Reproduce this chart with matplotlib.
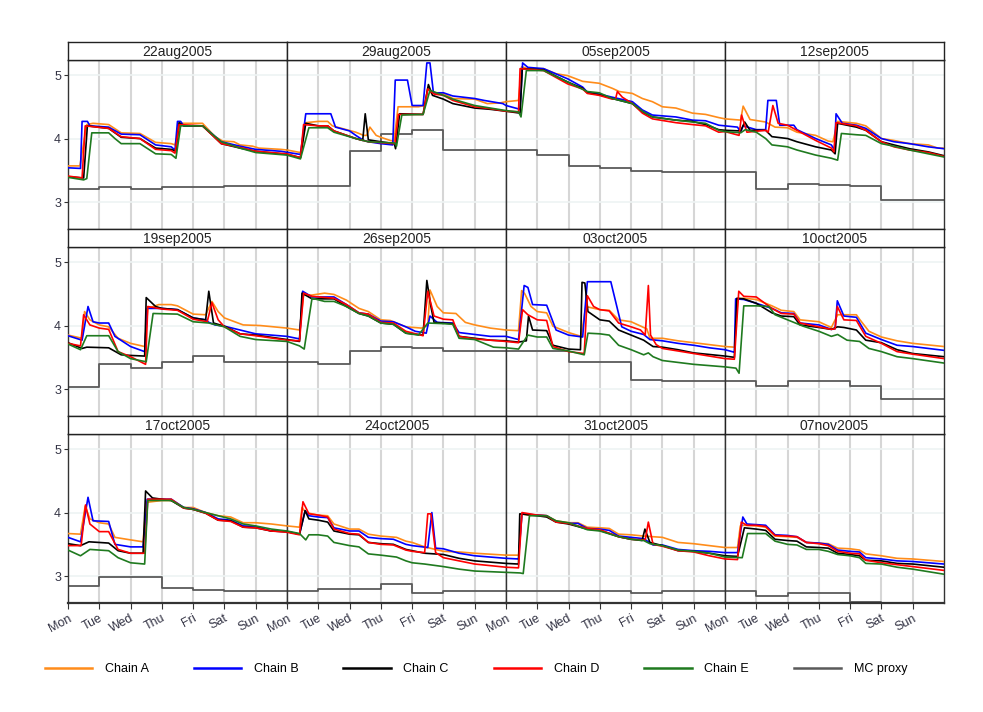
import numpy as np
import matplotlib
matplotlib.use("Agg")
import matplotlib.pyplot as plt
from matplotlib.lines import Line2D

plt.rcParams['font.family'] = ['Liberation Sans', 'DejaVu Sans']

# time in days since Mon 22aug2005, price value
weeks = ["22aug2005", "29aug2005", "05sep2005", "12sep2005",
         "19sep2005", "26sep2005", "03oct2005", "10oct2005",
         "17oct2005", "24oct2005", "31oct2005", "07nov2005"]
day_names = ["Mon", "Tue", "Wed", "Thu", "Fri", "Sat", "Sun"]

chain_a = [(0, 3.57), (0.38, 3.57), (0.6, 4.22), (0.8, 4.24), (1.3, 4.22), (1.7, 4.09), (2.3, 4.08), (2.8, 3.94),
           (3.3, 3.92), (3.42, 3.9), (3.6, 4.24), (4.3, 4.24), (4.7, 4.03), (4.95, 3.96), (5.3, 3.95), (5.5, 3.9),
           (5.9, 3.88), (6.1, 3.85), (6.8, 3.83),
           (7.0, 3.82), (7.43, 3.78), (7.6, 4.25), (8.0, 4.27), (8.3, 4.27), (8.45, 4.2), (9.2, 4.1), (9.45, 4.05),
           (9.55, 4.05), (9.65, 4.18), (9.85, 4.05), (10.0, 4.02), (10.3, 3.97), (10.42, 3.96), (10.55, 4.5),
           (11.2, 4.5), (11.4, 4.52), (11.5, 4.8), (11.6, 4.72), (12.0, 4.71), (12.3, 4.63), (13.0, 4.62),
           (13.4, 4.55), (13.8, 4.56),
           (14.0, 4.58), (14.4, 4.6), (14.5, 5.13), (14.7, 5.1), (15.2, 5.1), (15.6, 5.02), (15.97, 4.99),
           (16.45, 4.9), (16.98, 4.87), (17.4, 4.79), (17.62, 4.74), (18.04, 4.71), (18.36, 4.63), (18.68, 4.58),
           (19.0, 4.5), (19.43, 4.48), (19.96, 4.4), (20.38, 4.38), (20.8, 4.33),
           (21.0, 4.31), (21.5, 4.29), (21.58, 4.51), (21.8, 4.3), (22.3, 4.26), (22.6, 4.18), (23.0, 4.17),
           (23.3, 4.1), (23.9, 4.05), (24.3, 3.96), (24.45, 3.95), (24.6, 4.27), (25.2, 4.24), (25.5, 4.2),
           (26.0, 4.0), (26.4, 3.97), (26.9, 3.92), (27.5, 3.9), (27.8, 3.85),
           (28.0, 3.85), (28.45, 3.8), (28.53, 4.22), (28.7, 4.09), (29.0, 4.01), (29.3, 3.98), (29.6, 3.8),
           (30.0, 3.72), (30.45, 3.67), (30.55, 4.27), (30.9, 4.33), (31.3, 4.33), (31.5, 4.31), (32.0, 4.18),
           (32.4, 4.17), (32.6, 4.38), (32.8, 4.22), (33.0, 4.12), (33.6, 4.01), (34.15, 4.0),
           (35.0, 3.96), (35.4, 3.93), (35.53, 4.48), (35.8, 4.48), (36.2, 4.51), (36.5, 4.49), (36.9, 4.4),
           (37.3, 4.27), (37.6, 4.22), (38.0, 4.09), (38.3, 4.08), (38.8, 3.98), (39.3, 3.96), (39.5, 4.0),
           (39.57, 4.56), (39.8, 4.3), (40.0, 4.2), (40.4, 4.19), (40.7, 4.05), (41.0, 4.01), (41.5, 3.96),
           (42.0, 3.93), (42.4, 3.92), (42.5, 4.55), (42.6, 4.5), (42.8, 4.3), (43.0, 4.22), (43.3, 4.2),
           (43.5, 3.99), (44.0, 3.89), (44.4, 3.83), (44.55, 4.3), (45.0, 4.25), (45.3, 4.24), (45.6, 4.09),
           (46.0, 4.06), (46.4, 3.97), (46.5, 3.95), (46.6, 3.8), (47.0, 3.8), (47.5, 3.76), (48.0, 3.73),
           (48.5, 3.7),
           (49.0, 3.67), (49.3, 3.66), (49.41, 4.42), (49.6, 4.43), (50.0, 4.41), (50.5, 4.31), (50.8, 4.24),
           (51.2, 4.22), (51.4, 4.09), (52.0, 4.06), (52.4, 3.97), (52.6, 4.17), (53.2, 4.17), (53.3, 4.1),
           (53.6, 3.91), (54.0, 3.82), (54.5, 3.76), (55.0, 3.72),
           (56.0, 3.67), (56.4, 3.66), (56.55, 4.1), (56.7, 3.9), (57.0, 3.84), (57.3, 3.82), (57.5, 3.61),
           (58.0, 3.57), (58.4, 3.54), (58.5, 4.16), (59.0, 4.19), (59.3, 4.19), (59.7, 4.08), (60.0, 4.08),
           (60.4, 4.0), (60.8, 3.95), (61.2, 3.93), (61.6, 3.84), (62.0, 3.84), (62.5, 3.82),
           (63.0, 3.79), (63.4, 3.77), (63.48, 4.08), (63.6, 4.0), (64.0, 3.96), (64.3, 3.95), (64.5, 3.82),
           (65.0, 3.74), (65.3, 3.74), (65.6, 3.66), (66.0, 3.63), (66.5, 3.61), (66.8, 3.55), (67.0, 3.53),
           (67.4, 3.46), (68.0, 3.39), (68.5, 3.38), (69.0, 3.36),
           (70.0, 3.33), (70.4, 3.33), (70.51, 3.98), (70.7, 3.96), (71.0, 3.96), (71.3, 3.95), (71.6, 3.87),
           (72.0, 3.84), (72.3, 3.84), (72.6, 3.77), (73.0, 3.76), (73.3, 3.75), (73.6, 3.66), (74.0, 3.65),
           (74.4, 3.63), (75.0, 3.61), (75.5, 3.53), (76.0, 3.51), (76.5, 3.48),
           (77.0, 3.45), (77.4, 3.45), (77.49, 3.79), (77.6, 3.8), (78.0, 3.79), (78.3, 3.77), (78.6, 3.63),
           (79.0, 3.62), (79.3, 3.61), (79.6, 3.53), (80.0, 3.52), (80.3, 3.51), (80.6, 3.44), (81.0, 3.43),
           (81.3, 3.41), (81.5, 3.35), (82.0, 3.32), (82.5, 3.28), (83.0, 3.27), (84.0, 3.23)]

chain_b = [(0, 3.54), (0.4, 3.53), (0.45, 4.27), (0.62, 4.27), (0.7, 4.2), (1.3, 4.18), (1.7, 4.07), (2.3, 4.06),
           (2.8, 3.9), (3.3, 3.87), (3.42, 3.82), (3.5, 4.27), (3.6, 4.27), (3.7, 4.2), (4.3, 4.2), (4.9, 3.95),
           (5.5, 3.88), (6.0, 3.83), (6.8, 3.8),
           (7.43, 3.75), (7.6, 4.39), (8.4, 4.39), (8.55, 4.18), (9.0, 4.12), (9.2, 4.05), (9.45, 3.97),
           (9.6, 3.95), (10.0, 3.92), (10.38, 3.9), (10.46, 4.92), (10.85, 4.92), (11.0, 4.52), (11.35, 4.52),
           (11.47, 5.19), (11.57, 5.19), (11.68, 4.72), (12.0, 4.72), (12.3, 4.67), (13.0, 4.63), (13.3, 4.6),
           (13.9, 4.55),
           (14.0, 4.52), (14.45, 4.46), (14.53, 5.19), (14.7, 5.12), (15.2, 5.1), (15.97, 4.94), (16.45, 4.81),
           (16.6, 4.73), (16.98, 4.7), (17.4, 4.65), (18.04, 4.58), (18.36, 4.45), (18.68, 4.37), (19.43, 4.34),
           (19.96, 4.29), (20.38, 4.28), (20.8, 4.21), (21.0, 4.2),
           (21.4, 4.18), (21.5, 4.1), (21.58, 4.2), (22.0, 4.14), (22.3, 4.14), (22.37, 4.6), (22.64, 4.6),
           (22.75, 4.21), (23.2, 4.21), (23.3, 4.14), (23.9, 4.0), (24.4, 3.9), (24.5, 3.82), (24.55, 4.39),
           (24.75, 4.24), (25.2, 4.21), (25.5, 4.16), (26.0, 4.0), (26.4, 3.95), (26.9, 3.92), (27.5, 3.87),
           (28.0, 3.84),
           (28.45, 3.77), (28.64, 4.3), (28.8, 4.06), (29.0, 4.04), (29.3, 4.04), (29.5, 3.83), (30.0, 3.67),
           (30.45, 3.59), (30.53, 4.27), (31.0, 4.27), (31.5, 4.25), (32.0, 4.12), (32.4, 4.09), (32.5, 4.05),
           (32.7, 4.01), (33.0, 3.99), (33.5, 3.93), (34.0, 3.87), (35.0, 3.83),
           (35.4, 3.79), (35.5, 4.54), (35.8, 4.45), (36.5, 4.45), (36.9, 4.33), (37.3, 4.2), (37.6, 4.18),
           (38.0, 4.07), (38.4, 4.06), (38.8, 3.98), (39.1, 3.91), (39.45, 3.88), (39.57, 4.15), (39.8, 4.05),
           (40.3, 4.04), (40.5, 3.89), (41.0, 3.86), (41.5, 3.83), (42.0, 3.83),
           (42.4, 3.78), (42.58, 4.63), (42.7, 4.6), (42.85, 4.33), (43.3, 4.32), (43.6, 3.93), (44.0, 3.85),
           (44.45, 3.82), (44.6, 4.69), (45.35, 4.69), (45.7, 3.98), (46.0, 3.91), (46.4, 3.86), (46.6, 3.78),
           (47.0, 3.76), (47.5, 3.72), (48.0, 3.69), (48.5, 3.65), (49.0, 3.62),
           (49.3, 3.58), (49.34, 4.42), (49.6, 4.41), (50.0, 4.35), (50.5, 4.27), (50.8, 4.2), (51.2, 4.19),
           (51.4, 4.04), (52.0, 4.01), (52.4, 3.94), (52.52, 3.95), (52.59, 4.39), (52.8, 4.15), (53.2, 4.13),
           (53.5, 3.88), (54.0, 3.78), (54.5, 3.69), (55.0, 3.67), (56.0, 3.61),
           (56.4, 3.54), (56.64, 4.24), (56.8, 3.87), (57.3, 3.86), (57.5, 3.5), (58.0, 3.46), (58.4, 3.46),
           (58.53, 4.21), (59.3, 4.21), (59.7, 4.08), (60.0, 4.06), (60.4, 4.0), (60.8, 3.9), (61.2, 3.88),
           (61.6, 3.79), (62.0, 3.78), (62.5, 3.71), (63.0, 3.7),
           (63.4, 3.66), (63.58, 4.03), (63.7, 3.95), (64.0, 3.93), (64.3, 3.92), (64.5, 3.76), (65.0, 3.71),
           (65.3, 3.71), (65.6, 3.61), (66.0, 3.59), (66.4, 3.58), (66.8, 3.5), (67.0, 3.48), (67.5, 3.45),
           (67.63, 4.0), (67.75, 3.44), (68.0, 3.43), (68.5, 3.36), (69.0, 3.32), (70.0, 3.28),
           (70.4, 3.27), (70.51, 3.98), (71.0, 3.96), (71.3, 3.95), (71.6, 3.86), (72.0, 3.83), (72.3, 3.83),
           (72.6, 3.75), (73.0, 3.74), (73.3, 3.72), (73.6, 3.63), (74.0, 3.61), (74.4, 3.59), (74.7, 3.49),
           (75.0, 3.49), (75.5, 3.42), (76.0, 3.4), (76.5, 3.39), (77.0, 3.37),
           (77.4, 3.37), (77.57, 3.93), (77.7, 3.82), (78.0, 3.81), (78.3, 3.8), (78.6, 3.65), (79.0, 3.64),
           (79.3, 3.62), (79.6, 3.53), (80.0, 3.52), (80.3, 3.5), (80.6, 3.41), (81.0, 3.39), (81.3, 3.38),
           (81.5, 3.29), (82.0, 3.27), (82.5, 3.24), (83.0, 3.23), (84.0, 3.19)]

chain_c = [(0, 3.4), (0.5, 3.38), (0.62, 4.2), (1.3, 4.16), (1.7, 4.02), (2.3, 4.0), (2.8, 3.85), (3.3, 3.83),
           (3.45, 3.8), (3.55, 4.25), (3.7, 4.2), (4.3, 4.2), (4.9, 3.92), (5.5, 3.85), (6.0, 3.8), (7.0, 3.75),
           (7.43, 3.7), (7.6, 4.24), (8.0, 4.2), (8.3, 4.2), (8.5, 4.12), (9.2, 4.0), (9.42, 3.97), (9.5, 4.39),
           (9.6, 3.98), (10.0, 3.95), (10.43, 3.92), (10.47, 3.84), (10.6, 4.39), (11.35, 4.38), (11.52, 4.85),
           (11.65, 4.68), (12.0, 4.62), (12.3, 4.55), (13.0, 4.48), (13.5, 4.46), (14.0, 4.43),
           (14.45, 4.4), (14.52, 5.1), (15.2, 5.08), (15.97, 4.89), (16.45, 4.79), (16.6, 4.72), (16.98, 4.69),
           (17.4, 4.63), (18.04, 4.55), (18.36, 4.42), (18.68, 4.34), (19.43, 4.29), (19.96, 4.27),
           (20.38, 4.22), (20.8, 4.14), (21.0, 4.13),
           (21.5, 4.12), (21.63, 4.26), (21.8, 4.13), (22.3, 4.13), (22.5, 4.03), (23.0, 4.0), (23.3, 3.95),
           (23.9, 3.87), (24.4, 3.82), (24.52, 3.76), (24.6, 4.24), (25.2, 4.18), (25.5, 4.13), (26.0, 3.95),
           (26.4, 3.9), (26.9, 3.84), (27.5, 3.79), (28.0, 3.73),
           (28.45, 3.64), (28.6, 3.66), (29.3, 3.65), (29.7, 3.54), (30.0, 3.53), (30.45, 3.52), (30.5, 4.44),
           (30.8, 4.3), (31.0, 4.27), (31.5, 4.25), (32.0, 4.12), (32.4, 4.09), (32.5, 4.54), (32.65, 4.04),
           (33.0, 3.99), (33.5, 3.87), (34.0, 3.85), (35.0, 3.78),
           (35.4, 3.75), (35.48, 4.51), (35.8, 4.42), (36.5, 4.42), (36.9, 4.3), (37.3, 4.19), (37.6, 4.15),
           (38.0, 4.04), (38.4, 4.02), (38.8, 3.88), (39.35, 3.85), (39.47, 4.71), (39.6, 4.3), (39.7, 4.05),
           (40.0, 4.04), (40.3, 4.03), (40.5, 3.83), (41.0, 3.8), (41.5, 3.77), (42.0, 3.76),
           (42.4, 3.74), (42.65, 3.76), (42.72, 4.15), (42.85, 3.93), (43.3, 3.92), (43.5, 3.69), (44.0, 3.63),
           (44.38, 3.62), (44.43, 4.68), (44.52, 4.67), (44.62, 4.22), (45.0, 4.09), (45.3, 4.07),
           (45.6, 3.93), (46.0, 3.85), (46.4, 3.77), (46.7, 3.67), (47.0, 3.66), (47.5, 3.62), (48.0, 3.57),
           (49.0, 3.52),
           (49.3, 3.5), (49.38, 4.43), (49.6, 4.42), (50.0, 4.35), (50.5, 4.2), (50.8, 4.15), (51.2, 4.14),
           (51.4, 4.01), (52.0, 3.97), (52.4, 3.94), (52.6, 3.98), (52.8, 3.97), (53.2, 3.93), (53.5, 3.77),
           (54.0, 3.73), (54.5, 3.62), (55.0, 3.56), (56.0, 3.51),
           (56.4, 3.48), (56.67, 3.54), (57.0, 3.53), (57.3, 3.52), (57.6, 3.4), (58.0, 3.36), (58.4, 3.36),
           (58.48, 4.34), (58.7, 4.23), (59.0, 4.21), (59.3, 4.19), (59.7, 4.07), (60.0, 4.05), (60.4, 3.99),
           (60.8, 3.88), (61.2, 3.87), (61.6, 3.77), (62.0, 3.76), (62.5, 3.71), (63.0, 3.7),
           (63.4, 3.66), (63.58, 4.03), (63.7, 3.9), (64.0, 3.88), (64.3, 3.85), (64.5, 3.71), (65.0, 3.66),
           (65.3, 3.65), (65.6, 3.53), (66.0, 3.51), (66.4, 3.5), (66.8, 3.42), (67.0, 3.4), (67.4, 3.36),
           (68.0, 3.34), (68.5, 3.28), (69.0, 3.24), (70.0, 3.2),
           (70.4, 3.19), (70.44, 3.98), (71.0, 3.95), (71.3, 3.93), (71.6, 3.85), (72.0, 3.82), (72.6, 3.74),
           (73.0, 3.72), (73.6, 3.62), (74.0, 3.58), (74.35, 3.56), (74.44, 3.74), (74.6, 3.53), (75.0, 3.48),
           (75.5, 3.4), (76.0, 3.39), (76.5, 3.36), (77.0, 3.32),
           (77.4, 3.31), (77.62, 3.76), (78.0, 3.74), (78.3, 3.72), (78.6, 3.58), (79.0, 3.56), (79.3, 3.55),
           (79.6, 3.46), (80.0, 3.45), (80.3, 3.44), (80.6, 3.36), (81.0, 3.34), (81.3, 3.32), (81.5, 3.25),
           (82.0, 3.24), (82.5, 3.2), (83.0, 3.19), (84.0, 3.14)]

chain_d = [(0, 3.41), (0.45, 3.38), (0.55, 4.2), (1.3, 4.16), (1.7, 4.03), (2.3, 4.0), (2.8, 3.83), (3.3, 3.81),
           (3.42, 3.77), (3.55, 4.22), (4.3, 4.2), (4.9, 3.92), (5.5, 3.86), (6.0, 3.8), (7.0, 3.76),
           (7.43, 3.7), (7.53, 4.22), (8.0, 4.2), (8.3, 4.2), (8.5, 4.12), (9.2, 4.0), (9.6, 3.95), (10.45, 3.92),
           (10.56, 4.38), (11.35, 4.38), (11.5, 4.78), (11.7, 4.7), (12.0, 4.68), (12.3, 4.6), (13.0, 4.5),
           (13.5, 4.47), (14.0, 4.43),
           (14.4, 4.42), (14.45, 5.1), (15.2, 5.07), (15.97, 4.86), (16.45, 4.78), (16.6, 4.71), (16.98, 4.68),
           (17.4, 4.62), (17.5, 4.62), (17.56, 4.74), (17.72, 4.65), (18.04, 4.55), (18.36, 4.4), (18.68, 4.31),
           (19.43, 4.25), (19.96, 4.22), (20.38, 4.2), (20.8, 4.1), (21.0, 4.11),
           (21.45, 4.05), (21.53, 4.37), (21.7, 4.1), (22.3, 4.13), (22.38, 4.1), (22.53, 4.52), (22.7, 4.24),
           (23.0, 4.21), (23.3, 4.13), (23.9, 3.97), (24.4, 3.85), (24.48, 3.79), (24.55, 4.25), (25.2, 4.2),
           (25.5, 4.13), (26.0, 3.95), (26.4, 3.87), (26.9, 3.82), (27.5, 3.78), (28.0, 3.72),
           (28.4, 3.68), (28.5, 4.17), (28.7, 4.01), (29.0, 3.96), (29.3, 3.94), (29.6, 3.59), (30.0, 3.51),
           (30.48, 3.39), (30.55, 4.3), (31.0, 4.26), (31.5, 4.24), (32.0, 4.1), (32.45, 4.06), (32.6, 4.36),
           (32.8, 4.09), (33.0, 3.98), (33.5, 3.87), (34.0, 3.84), (35.0, 3.77),
           (35.4, 3.76), (35.53, 4.51), (35.8, 4.46), (36.5, 4.43), (36.9, 4.33), (37.3, 4.2), (37.6, 4.18),
           (38.0, 4.05), (38.4, 4.04), (38.8, 3.91), (39.35, 3.84), (39.5, 4.54), (39.7, 4.15), (40.0, 4.1),
           (40.3, 4.09), (40.5, 3.83), (41.0, 3.79), (41.5, 3.77), (42.0, 3.75),
           (42.4, 3.73), (42.53, 4.25), (42.7, 4.17), (43.0, 4.09), (43.3, 4.08), (43.5, 3.67), (44.0, 3.59),
           (44.5, 3.56), (44.6, 4.47), (44.8, 4.3), (45.0, 4.25), (45.3, 4.23), (45.6, 4.04), (46.0, 3.98),
           (46.3, 3.93), (46.45, 3.85), (46.55, 4.63), (46.62, 3.85), (46.8, 3.7), (47.0, 3.64), (47.5, 3.6),
           (48.0, 3.56), (49.0, 3.48),
           (49.3, 3.47), (49.44, 4.54), (49.6, 4.46), (50.0, 4.45), (50.5, 4.27), (50.8, 4.19), (51.2, 4.18),
           (51.4, 4.04), (52.0, 3.98), (52.4, 3.94), (52.52, 3.95), (52.59, 4.3), (52.8, 4.09), (53.2, 4.08),
           (53.5, 3.83), (54.0, 3.72), (54.5, 3.59), (55.0, 3.55), (56.0, 3.48),
           (56.42, 3.48), (56.56, 4.12), (56.7, 3.82), (57.0, 3.7), (57.3, 3.7), (57.6, 3.42), (58.0, 3.36),
           (58.45, 3.36), (58.55, 4.21), (59.3, 4.21), (59.7, 4.07), (60.0, 4.05), (60.4, 3.99), (60.8, 3.88),
           (61.2, 3.86), (61.6, 3.77), (62.0, 3.76), (62.5, 3.71), (63.0, 3.69),
           (63.4, 3.65), (63.51, 4.17), (63.7, 3.98), (64.0, 3.96), (64.3, 3.93), (64.5, 3.74), (65.0, 3.67),
           (65.3, 3.66), (65.6, 3.53), (66.0, 3.5), (66.4, 3.49), (66.8, 3.41), (67.0, 3.39), (67.4, 3.37),
           (67.5, 3.98), (67.6, 3.98), (67.75, 3.37), (68.0, 3.29), (68.5, 3.24), (69.0, 3.19), (70.0, 3.14),
           (70.4, 3.13), (70.51, 4.0), (71.0, 3.96), (71.3, 3.95), (71.6, 3.85), (72.0, 3.83), (72.6, 3.75),
           (73.0, 3.73), (73.6, 3.62), (74.0, 3.58), (74.45, 3.57), (74.55, 3.85), (74.7, 3.5), (75.0, 3.47),
           (75.5, 3.4), (76.0, 3.38), (76.5, 3.32), (77.0, 3.27),
           (77.4, 3.26), (77.52, 3.85), (77.7, 3.8), (78.0, 3.8), (78.3, 3.78), (78.6, 3.64), (79.0, 3.63),
           (79.3, 3.62), (79.6, 3.53), (80.0, 3.51), (80.3, 3.48), (80.6, 3.39), (81.0, 3.36), (81.3, 3.35),
           (81.5, 3.25), (82.0, 3.21), (82.5, 3.18), (83.0, 3.15), (84.0, 3.09)]

chain_e = [(0, 3.39), (0.5, 3.35), (0.6, 3.37), (0.76, 4.09), (1.3, 4.09), (1.5, 4.0), (1.7, 3.92), (2.3, 3.92),
           (2.8, 3.76), (3.3, 3.75), (3.45, 3.69), (3.6, 4.2), (4.3, 4.2), (4.9, 3.95), (5.5, 3.85), (6.0, 3.78),
           (7.0, 3.74),
           (7.43, 3.68), (7.7, 4.17), (8.3, 4.17), (8.5, 4.1), (9.2, 4.0), (9.6, 3.95), (10.45, 3.93), (10.5, 3.88),
           (10.67, 4.37), (11.35, 4.38), (11.57, 4.76), (12.0, 4.68), (12.3, 4.62), (13.0, 4.52), (14.0, 4.44),
           (14.4, 4.42), (14.48, 4.34), (14.65, 5.07), (15.2, 5.07), (15.97, 4.89), (16.3, 4.81), (16.6, 4.74),
           (16.98, 4.72), (17.4, 4.63), (18.04, 4.55), (18.36, 4.43), (18.68, 4.34), (19.43, 4.29),
           (19.96, 4.26), (20.38, 4.24), (20.8, 4.13), (21.0, 4.11),
           (21.5, 4.09), (21.65, 4.14), (22.0, 4.1), (22.3, 4.0), (22.5, 3.9), (23.0, 3.87), (23.3, 3.82),
           (23.9, 3.74), (24.4, 3.69), (24.6, 3.66), (24.72, 4.08), (25.2, 4.06), (25.5, 4.05), (26.0, 3.92),
           (26.4, 3.88), (26.9, 3.82), (27.5, 3.76), (28.0, 3.71),
           (28.4, 3.62), (28.6, 3.84), (29.3, 3.84), (29.6, 3.59), (30.0, 3.48), (30.5, 3.43), (30.72, 4.19),
           (31.5, 4.18), (32.0, 4.06), (32.5, 4.04), (33.0, 3.98), (33.5, 3.83), (34.0, 3.78), (35.0, 3.75),
           (35.4, 3.68), (35.55, 3.63), (35.8, 4.43), (36.2, 4.38), (36.5, 4.38), (36.9, 4.3), (37.3, 4.19),
           (37.6, 4.15), (38.0, 4.04), (38.4, 4.02), (38.8, 3.88), (39.2, 3.85), (39.5, 4.04), (40.0, 4.03),
           (40.3, 4.02), (40.5, 3.8), (41.0, 3.78), (41.3, 3.72), (41.6, 3.66), (42.0, 3.65),
           (42.4, 3.63), (42.7, 3.85), (43.0, 3.82), (43.3, 3.82), (43.5, 3.64), (44.0, 3.6), (44.5, 3.54),
           (44.62, 3.88), (45.0, 3.87), (45.3, 3.85), (45.6, 3.69), (46.0, 3.62), (46.4, 3.54), (46.55, 3.57),
           (46.7, 3.51), (47.0, 3.45), (47.5, 3.42), (48.0, 3.39), (49.0, 3.35),
           (49.35, 3.33), (49.45, 3.25), (49.6, 4.31), (50.0, 4.31), (50.4, 4.3), (50.6, 4.17), (51.0, 4.09),
           (51.5, 3.99), (52.0, 3.91), (52.4, 3.83), (52.6, 3.86), (52.9, 3.77), (53.3, 3.75), (53.6, 3.64),
           (54.0, 3.59), (54.5, 3.51), (55.0, 3.48), (56.0, 3.41),
           (56.4, 3.32), (56.7, 3.42), (57.3, 3.4), (57.6, 3.29), (58.0, 3.21), (58.45, 3.19), (58.55, 4.19),
           (59.3, 4.19), (59.7, 4.08), (60.0, 4.05), (60.4, 4.0), (60.8, 3.95), (61.2, 3.9), (61.6, 3.82),
           (62.0, 3.79), (62.5, 3.74), (63.0, 3.71),
           (63.4, 3.67), (63.6, 3.57), (63.7, 3.65), (64.0, 3.65), (64.3, 3.63), (64.5, 3.53), (65.0, 3.48),
           (65.3, 3.46), (65.6, 3.35), (66.0, 3.33), (66.5, 3.3), (66.8, 3.24), (67.0, 3.21), (67.4, 3.19),
           (68.0, 3.15), (68.5, 3.11), (69.0, 3.08), (70.0, 3.06),
           (70.45, 3.05), (70.55, 3.04), (70.75, 3.95), (71.3, 3.95), (71.6, 3.87), (72.0, 3.84), (72.6, 3.73),
           (73.0, 3.71), (73.6, 3.62), (74.0, 3.58), (74.4, 3.56), (74.6, 3.51), (75.0, 3.48), (75.5, 3.41),
           (76.0, 3.39), (76.5, 3.36), (77.0, 3.3),
           (77.55, 3.29), (77.72, 3.67), (78.3, 3.67), (78.6, 3.55), (79.0, 3.5), (79.3, 3.49), (79.6, 3.42),
           (80.0, 3.42), (80.3, 3.39), (80.6, 3.34), (81.0, 3.32), (81.3, 3.29), (81.5, 3.2), (82.0, 3.19),
           (82.5, 3.14), (83.0, 3.11), (84.0, 3.03)]

# daily values, one per day
mc_proxy = [3.20, 3.24, 3.20, 3.24, 3.24, 3.26, 3.26,
            3.26, 3.26, 3.81, 4.07, 4.13, 3.82, 3.82,
            3.82, 3.74, 3.57, 3.53, 3.49, 3.47, 3.47,
            3.47, 3.21, 3.28, 3.27, 3.26, 3.03, 3.03,
            3.03, 3.39, 3.33, 3.42, 3.52, 3.42, 3.42,
            3.42, 3.40, 3.60, 3.67, 3.65, 3.60, 3.60,
            3.60, 3.60, 3.42, 3.42, 3.14, 3.12, 3.12,
            3.12, 3.05, 3.13, 3.13, 3.05, 2.84, 2.84,
            2.85, 2.99, 2.99, 2.82, 2.78, 2.76, 2.76,
            2.76, 2.79, 2.79, 2.88, 2.73, 2.76, 2.76,
            2.77, 2.77, 2.76, 2.77, 2.73, 2.77, 2.77,
            2.77, 2.68, 2.74, 2.74, 2.60, 2.55, 2.55]

labels = ["Chain A", "Chain B", "Chain C", "Chain D", "Chain E", "MC proxy"]
colors = ["#ff8c1a", "#0000ff", "#000000", "#ff0000", "#1f7a1f", "#5a5a5a"]

W, H = 983, 712
fig = plt.figure(figsize=(W / 100, H / 100), dpi=100)

chains = [chain_a, chain_b, chain_c, chain_d, chain_e]
mc_t = np.append(np.arange(len(mc_proxy)), len(mc_proxy))
mc_v = np.append(mc_proxy, mc_proxy[-1])

for i, wk in enumerate(weeks):
    r, c = i // 4, i % 4
    left = 68 + 219 * c
    top = 60 + 187 * r
    ax = fig.add_axes([left / W, 1 - (top + 168.5) / H, 219 / W, 168.5 / H])
    sx = fig.add_axes([left / W, 1 - top / H, 219 / W, 18.5 / H])
    sx.set_xticks([])
    sx.set_yticks([])
    for s in sx.spines.values():
        s.set_color("#222222")
        s.set_linewidth(1.0)
    sx.text(0.5, 0.45, wk, ha="center", va="center", fontsize=10, color="#222222", transform=sx.transAxes)

    t0 = 7 * i
    for d in range(1, 7):
        ax.axvline(t0 + d, color="#d6d6d6", lw=1.5, zorder=0)
    for yv in [3, 4, 5]:
        ax.axhline(yv, color="#eef3f3", lw=1.2, zorder=0)

    ax.step(mc_t, mc_v, where="post", color=colors[5], lw=1.3, zorder=2)
    for k, ch in enumerate(chains):
        arr = np.array(ch)
        ax.plot(arr[:, 0], arr[:, 1], color=colors[k], lw=1.2, zorder=3)

    ax.set_xlim(t0, t0 + 7)
    ax.set_ylim(2.585, 5.236)
    for s in ax.spines.values():
        s.set_color("#333333")
        s.set_linewidth(1.0)

    ax.set_yticks([3, 4, 5])
    ax.set_xticks([t0 + d for d in range(7)])
    if c == 0:
        ax.set_yticklabels(["3", "4", "5"], fontsize=9, color="#333344")
        ax.tick_params(axis="y", length=3, width=0.8, color="#333333", pad=2)
    else:
        ax.tick_params(axis="y", length=0, labelleft=False)
    if r == 2:
        ax.set_xticklabels(day_names, fontsize=9, color="#333344", rotation=28, ha="right",
                           rotation_mode="anchor")
        ax.tick_params(axis="x", length=4, width=0.8, color="#333333", pad=3)
        ax.spines["bottom"].set_linewidth(1.6)
    else:
        ax.tick_params(axis="x", length=0, labelbottom=False)

handles = [Line2D([], [], color=col, lw=1.8) for col in colors]
fig.legend(handles, labels, loc="center", bbox_to_anchor=(476 / W, 1 - 669 / H), ncol=6,
           frameon=False, fontsize=9, handlelength=3.8, handletextpad=1.0, columnspacing=3.6)

fig.savefig("out.png", dpi=100)
